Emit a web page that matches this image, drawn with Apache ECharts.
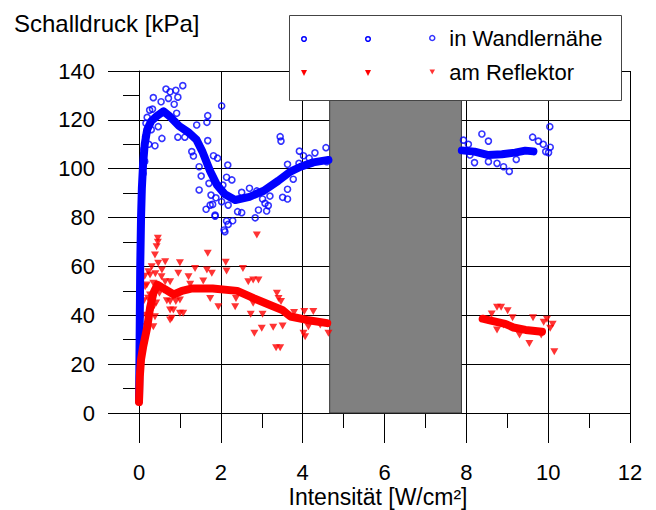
<!DOCTYPE html>
<html>
<head>
<meta charset="utf-8">
<script src="https://cdn.jsdelivr.net/npm/echarts@6/dist/echarts.min.js"></script>
<style>html,body{margin:0;padding:0;background:#fff}#c{width:656px;height:510px}</style>
</head>
<body>
<div id="c"></div>
<script>
// ---- data ----
const xTitle = 'Intensität [W/cm²]';
const yTitle = 'Schalldruck [kPa]';
const seriesNames = ['in Wandlernähe', 'am Reflektor'];

// scattered single measurements near the transducer (blue, open markers)
const blueScatter = [
  [0.66,132.6],[0.76,131.5],[0.90,132.1],[1.07,134.0],[0.35,129.1],[0.54,127.4],[0.72,128.8],[0.95,129.3],
  [0.86,126.4],[0.33,124.4],[0.92,122.7],[0.17,118.6],[0.47,117.2],[0.16,113.1],[0.56,112.4],[0.39,109.4],
  [0.95,112.9],[1.12,112.9],[1.41,117.9],[1.68,121.7],[1.66,119.0],[2.02,125.7],[1.68,111.5],[1.29,107.0],
  [1.33,105.2],[1.47,100.8],[1.82,105.3],[1.92,104.3],[2.17,101.5],[1.52,97.0],[1.47,91.3],[1.71,94.0],
  [1.76,89.2],[2.14,96.5],[2.27,95.4],[1.80,85.4],[1.64,83.4],[1.88,88.1],[2.02,86.5],[1.86,80.6],
  [2.14,78.6],[2.29,78.7],[2.41,82.4],[2.18,85.1],[3.45,113.1],[3.47,111.3],[2.05,93.3],[2.51,90.3],
  [2.70,92.0],[2.88,90.9],[3.20,88.8],[3.02,87.6],[3.08,85.8],[3.16,84.9],[3.12,82.7],[2.92,83.1],
  [2.51,82.0],[2.84,79.9],[3.51,88.3],[3.63,87.6],[3.63,91.6],[3.77,95.7],[3.63,101.8],[3.91,102.2],
  [3.92,107.2],[4.02,105.3],[4.16,104.3],[4.30,106.5],[4.57,108.6],[4.59,102.9],[2.08,74.9],[2.10,74.2],
  [2.18,77.2],[1.74,85.1],[1.86,81.0],
  [0.12,108],[0.14,103],[0.1,98],[0.2,121],[0.26,124],[0.3,116],[0.24,110],
  [8.38,114.2],[8.54,111.3],[7.93,111.7],[8.05,110.0],[8.09,105.6],[8.20,102.5],[8.54,102.9],[8.75,102.2],
  [8.91,100.8],[9.05,98.9],[9.22,103.8],[9.62,112.9],[9.76,111.3],[9.88,110.0],[9.94,107.0],[10.01,106.6],
  [10.05,108.8],[10.04,117.2]
];

// dense running trace (blue), drawn as a thick band
const blueTrendLeft = [
  [0,5],[0.01,20],[0.02,40],[0.03,60],[0.05,80],[0.07,92],[0.1,102],[0.14,110],[0.2,116],[0.3,119.5],[0.43,121.5],
  [0.6,123.5],[0.76,121.3],[0.98,117.5],[1.2,115],[1.4,112],[1.55,107],[1.74,99],[1.9,93.5],[2.1,89.5],
  [2.35,87.2],[2.7,88.5],[3.05,91],[3.4,95],[3.7,98.8],[3.95,100.8],[4.26,102.6],[4.63,103.6]
];
const blueTrendRight = [
  [7.89,107.5],[8.2,107],[8.54,105.6],[8.87,105.9],[9.19,106.6],[9.44,107.4],[9.64,107.1]
];

// scattered single measurements at the reflector (red, filled triangles)
const redScatter = [
  [0.46,71.5],[0.46,69.9],[0.43,68.1],[0.39,64.7],[1.68,65.4],[1.0,61.5],[0.64,61.9],[0.47,61.3],
  [0.31,59.9],[2.12,61.7],[2.14,58.1],[1.66,58.5],[1.37,59.2],[0.96,57.2],[0.56,58.5],[0.27,56.5],
  [0.64,53.7],[0.76,53.7],[1.78,57.2],[1.57,54.0],[1.25,52.7],[0.35,53.1],[0.19,52.4],[0.27,48.3],
  [0.68,46.0],[0.76,45.6],[0.90,45.6],[1.0,46.3],[1.74,46.9],[2.37,46.9],[1.94,43.5],[2.35,43.5],
  [0.76,42.2],[0.84,42.2],[1.0,40.8],[1.08,40.8],[0.80,38.8],[0.35,43.5],[0.39,39.4],[0.35,35.3],
  [2.54,59.2],[1.21,55.8],[2.67,53.7],[2.79,54.4],[2.92,54.4],[2.73,40.4],[3.02,40.4],[2.82,32.6],
  [3.0,34.7],[3.28,35.1],[3.51,35.6],[3.37,49.0],[3.41,46.9],[3.47,45.6],[3.35,26.7],[3.45,26.7],
  [3.79,41.1],[4.04,41.5],[4.26,41.5],[4.02,32.6],[4.06,31.2],[4.14,35.3],[4.43,36.0],[4.63,32.6],
  [0.76,38.1],[2.88,72.9],[2.79,44.9],[0.23,57.8],[0.15,51.7],[0.55,55.8],[0.6,50.3],[0.31,42.2],[0.19,35.3],
  [0.12,46],[0.1,40],[0.14,56],[0.22,47],[0.4,57],[0.5,49],[0.42,45],[0.08,33],[0.12,30],[0.05,26],
  [8.75,43.3],[8.85,43.3],[9.01,41.9],[9.13,39.0],[8.62,40.5],[9.63,39.0],[9.89,37.1],[9.97,38.4],
  [10.11,36.3],[10.05,34.7],[8.75,34.0],[8.91,36.0],[9.30,31.9],[9.54,28.5],[9.83,31.9],[10.15,25.1]
];

const redTrendLeft = [
  [0,4.5],[0.02,15],[0.05,22],[0.1,27],[0.2,35],[0.27,43],[0.35,49],[0.45,52.5],[0.6,51],[0.85,48.5],
  [1.05,50],[1.3,51],[1.8,51],[2.4,50],[2.8,47],[3.2,44.2],[3.5,42.2],[3.7,39.5],[4.1,38.1],[4.6,36.8]
];
const redTrendRight = [
  [8.4,38.6],[8.6,37.8],[8.95,36.5],[9.15,35],[9.45,34],[9.85,33.3]
];

// masked (gray) intensity range
const maskedRange = [4.66, 7.88];

// ---- chart ----
const FONT = "'Liberation Sans', Arial, sans-serif";
const chart = echarts.init(document.getElementById('c'), null, {renderer: 'svg'});
const blue = '#0000ff', red = '#ff0000';
const downTri = 'path://M0,0L10,0L5,9Z';

chart.setOption({
  animation: false,
  textStyle: {fontFamily: FONT},
  grid: {left: 139, top: 71, right: 26, bottom: 97},
  xAxis: {
    type: 'value', min: 0, max: 12, interval: 2,
    axisLine: {show: true, lineStyle: {color: '#000', width: 1}},
    axisTick: {show: true, length: 30, lineStyle: {color: '#000'}},
    minorTick: {show: true, splitNumber: 2, length: 15, lineStyle: {color: '#000'}},
    splitLine: {show: true, lineStyle: {color: '#000', width: 1}},
    axisLabel: {margin: 48, fontSize: 22, lineHeight: 22, color: '#000', fontFamily: FONT}
  },
  yAxis: {
    type: 'value', min: 0, max: 140, interval: 20,
    axisLine: {show: true, lineStyle: {color: '#000', width: 1}},
    axisTick: {show: true, length: 31, lineStyle: {color: '#000'}},
    minorTick: {show: true, splitNumber: 2, length: 16, lineStyle: {color: '#000'}},
    splitLine: {show: true, lineStyle: {color: '#000', width: 1}},
    axisLabel: {margin: 44, fontSize: 22, color: '#000', fontFamily: FONT}
  },
  legend: {
    orient: 'vertical', left: 424, top: 22, itemWidth: 24, itemHeight: 5, itemGap: 12,
    z: 10,
    textStyle: {fontSize: 22, color: '#000', lineHeight: 22, fontFamily: FONT},
    data: [
      {name: seriesNames[0], icon: 'circle', itemStyle: {color: 'rgba(0,0,0,0)', borderColor: blue, borderWidth: 1.5}},
      {name: seriesNames[1], icon: downTri, itemStyle: {color: red, borderWidth: 0}}
    ]
  },
  graphic: [
    {type: 'rect', z: 5, shape: {x: 289.5, y: 15.5, width: 332, height: 85},
     style: {fill: '#fff', stroke: '#444', lineWidth: 1}},
    {type: 'circle', z: 11, shape: {cx: 304, cy: 39, r: 2.3}, style: {fill: 'none', stroke: blue, lineWidth: 1.5}},
    {type: 'circle', z: 11, shape: {cx: 368, cy: 39, r: 2.3}, style: {fill: 'none', stroke: blue, lineWidth: 1.5}},
    {type: 'polygon', z: 11, shape: {points: [[301, 70], [307, 70], [304, 76]]}, style: {fill: red}},
    {type: 'polygon', z: 11, shape: {points: [[365, 70], [371, 70], [368, 76]]}, style: {fill: red}},
    {type: 'text', left: 14, top: 11, z: 11,
     style: {text: yTitle, font: '24px ' + FONT, fill: '#000'}},
    {type: 'text', z: 11, x: 378, y: 497,
     style: {text: xTitle, font: '23px ' + FONT, lineHeight: 22, fill: '#000', textAlign: 'center', textVerticalAlign: 'middle'}}
  ],
  series: [
    {name: seriesNames[0], type: 'scatter', z: 2, data: blueScatter, symbol: 'circle', symbolSize: 6,
     itemStyle: {color: 'rgba(0,0,0,0)', borderColor: blue, borderWidth: 1.6}},
    {name: seriesNames[1], type: 'scatter', z: 2, data: redScatter, symbol: 'triangle', symbolRotate: 180,
     symbolSize: [8, 7], itemStyle: {color: red}},
    {name: 'blueTrendL', type: 'line', z: 3, data: blueTrendLeft, showSymbol: false, symbol: 'none',
     lineStyle: {color: blue, width: 8, cap: 'round', join: 'round'}},
    {name: 'blueTrendR', type: 'line', z: 3, data: blueTrendRight, showSymbol: false, symbol: 'none',
     lineStyle: {color: blue, width: 8, cap: 'round', join: 'round'}},
    {name: 'redTrendL', type: 'line', z: 3, data: redTrendLeft, showSymbol: false, symbol: 'none',
     lineStyle: {color: red, width: 8, cap: 'round', join: 'round'}},
    {name: 'redTrendR', type: 'line', z: 3, data: redTrendRight, showSymbol: false, symbol: 'none',
     lineStyle: {color: red, width: 8, cap: 'round', join: 'round'}},
    {name: 'masked', type: 'line', z: 4, data: [], silent: true,
     markArea: {silent: true, label: {show: false},
       itemStyle: {color: '#808080', borderColor: '#333', borderWidth: 1},
       data: [[{xAxis: maskedRange[0], yAxis: 0}, {xAxis: maskedRange[1], yAxis: 140}]]}}
  ]
});
</script>
</body>
</html>
